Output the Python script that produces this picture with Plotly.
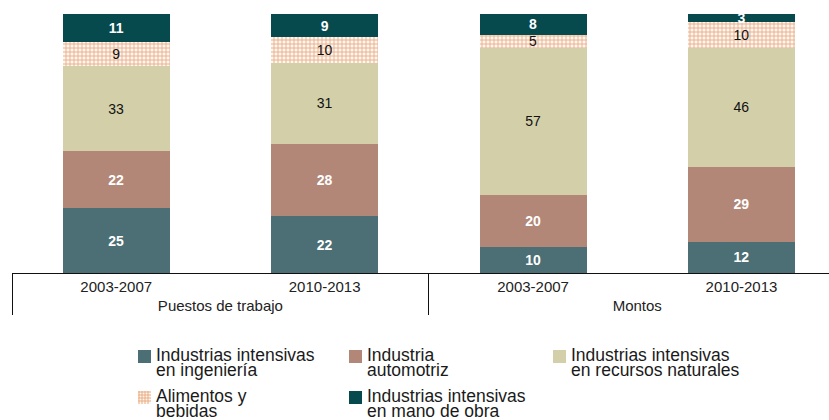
import plotly.graph_objects as go

# Categories (group, period)
groups = ["Puestos de trabajo", "Puestos de trabajo", "Montos", "Montos"]
periods = ["2003-2007", "2010-2013", "2003-2007", "2010-2013"]

# Shares by sector (%)
ingenieria = [25, 22, 10, 12]
automotriz = [22, 28, 20, 29]
recursos = [33, 31, 57, 46]
alimentos = [9, 10, 5, 10]
mano_obra = [11, 9, 8, 3]

FONT = "Liberation Sans, Arial, sans-serif"
PATTERN_FG = "#e9ad84"
PATTERN_BG = "#fdf6f1"

series = [
    (["Industrias intensivas", "en ingeniería"], ingenieria, "#4b6f74", "white", True, None),
    (["Industria", "automotriz"], automotriz, "#b28777", "white", True, None),
    (["Industrias intensivas", "en recursos naturales"], recursos, "#d3cfa9", "#111111", False, None),
    (["Alimentos y", "bebidas"], alimentos, "#ffffff", "#111111", False,
     dict(shape="+", size=4, solidity=0.4, fgcolor=PATTERN_FG, bgcolor=PATTERN_BG, fillmode="replace")),
    (["Industrias intensivas", "en mano de obra"], mano_obra, "#064a4e", "white", True, None),
]

W, H = 829, 420
L, T, B = 12, 14, 147
PLOT_W = W - L
PLOT_H = H - T - B


def px_x(px):
    return (px - L) / PLOT_W


def px_y(py):
    return (H - B - py) / PLOT_H


fig = go.Figure()
for lines, vals, color, tcolor, bold, pattern in series:
    marker = dict(color=color, line=dict(width=0))
    if pattern:
        marker["pattern"] = pattern
    fig.add_trace(go.Bar(
        name=" ".join(lines),
        x=[groups, periods],
        y=vals,
        marker=marker,
        text=[f"<b>{v}</b>" if bold else str(v) for v in vals],
        textposition="inside",
        insidetextanchor="middle",
        constraintext="none",
        textangle=0,
        textfont=dict(family=FONT, size=14, color=tcolor),
        hoverinfo="skip",
        showlegend=False,
    ))

# Legend: three columns, two rows, swatch + two-line label
legend_slots = [(138, 350), (349, 350), (553, 350), (138, 391), (349, 391)]
shapes = []
annotations = []
SW = 13
for (lines, vals, color, tcolor, bold, pattern), (sx, sy) in zip(series, legend_slots):
    x0, x1 = px_x(sx), px_x(sx + SW)
    y0, y1 = px_y(sy + SW), px_y(sy)
    if pattern:
        shapes.append(dict(type="rect", xref="paper", yref="paper", x0=x0, x1=x1, y0=y0, y1=y1,
                           fillcolor=PATTERN_BG, line=dict(width=0)))
        for k in range(1, SW, 3):
            shapes.append(dict(type="line", xref="paper", yref="paper",
                               x0=px_x(sx + k), x1=px_x(sx + k), y0=y0, y1=y1,
                               line=dict(color=PATTERN_FG, width=1)))
            shapes.append(dict(type="line", xref="paper", yref="paper",
                               x0=x0, x1=x1, y0=px_y(sy + k), y1=px_y(sy + k),
                               line=dict(color=PATTERN_FG, width=1)))
    else:
        shapes.append(dict(type="rect", xref="paper", yref="paper", x0=x0, x1=x1, y0=y0, y1=y1,
                           fillcolor=color, line=dict(width=0)))
    tx = sx + SW + 4
    for i, line in enumerate(lines):
        annotations.append(dict(
            text=line, xref="paper", yref="paper", x=px_x(tx), y=px_y(sy + 5 + 15 * i),
            xanchor="left", yanchor="middle", showarrow=False, borderpad=0,
            font=dict(family=FONT, size=17.5, color="#1a1a1a"),
        ))

fig.update_layout(
    barmode="stack",
    bargap=0.487,
    width=W,
    height=H,
    margin=dict(l=L, r=0, t=T, b=B, autoexpand=False),
    paper_bgcolor="white",
    plot_bgcolor="white",
    font=dict(family=FONT, size=15, color="#222222"),
    xaxis=dict(
        type="multicategory",
        range=[-0.5, 3.42],
        showline=True,
        linecolor="#111111",
        linewidth=1,
        ticks="",
        showdividers=True,
        dividercolor="#111111",
        dividerwidth=1,
        tickfont=dict(family=FONT, size=15, color="#222222"),
        showgrid=False,
        zeroline=False,
    ),
    yaxis=dict(range=[0, 100], visible=False, showgrid=False, zeroline=False),
    showlegend=False,
    shapes=shapes,
    annotations=annotations,
)

fig.write_html("out.html")
